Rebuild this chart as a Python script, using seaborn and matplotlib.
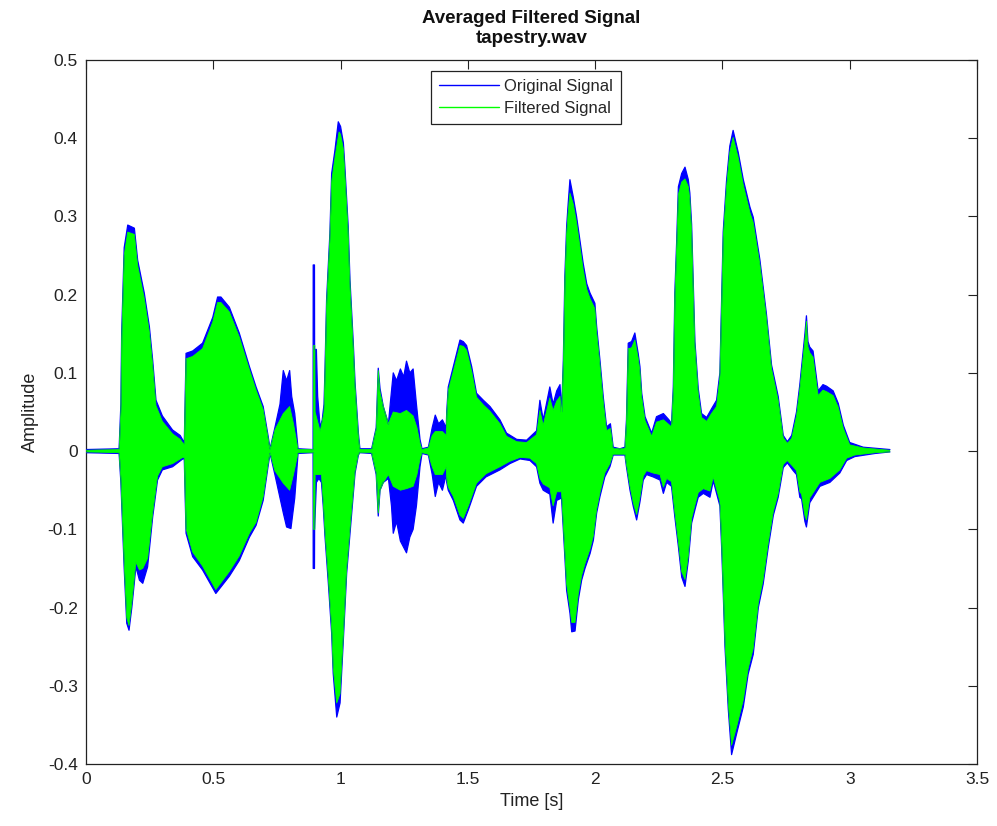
import matplotlib
matplotlib.use("Agg")
import matplotlib.pyplot as plt
from matplotlib import font_manager
from matplotlib.lines import Line2D
import seaborn as sns
import pandas as pd

# ---------------- data (envelopes) ----------------
orig_up_t = [0.000, 0.130, 0.137, 0.140, 0.150, 0.164, 0.190, 0.203, 0.229, 0.249, 0.262, 0.275, 0.300, 0.340, 0.370, 0.384,
             0.386, 0.393, 0.419, 0.458, 0.498, 0.517, 0.530, 0.563, 0.602, 0.642, 0.668, 0.696, 0.715, 0.723,
             0.742, 0.762, 0.775, 0.788, 0.800, 0.808, 0.820, 0.833,
             0.892, 0.8925, 0.8975, 0.898, 0.905, 0.910, 0.920, 0.928, 0.935, 0.939, 0.945, 0.958, 0.965, 0.978, 0.991,
             1.000, 1.011, 1.017, 1.030, 1.037, 1.050, 1.057, 1.070, 1.076,
             1.122, 1.140, 1.148, 1.155, 1.168, 1.188, 1.195, 1.207, 1.220, 1.235, 1.248, 1.259, 1.272, 1.285, 1.298, 1.312, 1.320,
             1.345, 1.360, 1.372, 1.385, 1.400, 1.415,
             1.417, 1.423, 1.443, 1.469, 1.482, 1.495, 1.515, 1.534, 1.561, 1.587, 1.626, 1.652, 1.692, 1.731, 1.770, 1.783,
             1.796, 1.822, 1.835, 1.849, 1.862, 1.868,
             1.875, 1.881, 1.888, 1.894, 1.901, 1.914, 1.927, 1.940, 1.953, 1.967, 1.980, 1.999, 2.006, 2.019, 2.032, 2.045,
             2.060, 2.071, 2.097, 2.117,
             2.123, 2.130, 2.143, 2.156, 2.169, 2.176, 2.183, 2.196, 2.222, 2.241, 2.268, 2.290, 2.300,
             2.307, 2.313, 2.320, 2.327, 2.340, 2.353, 2.366, 2.372, 2.379, 2.385, 2.392, 2.405, 2.418, 2.438, 2.457, 2.477,
             2.490, 2.497, 2.503, 2.516, 2.529, 2.542, 2.562, 2.582, 2.608, 2.621, 2.647, 2.673, 2.693, 2.706, 2.719, 2.739,
             2.755, 2.772, 2.791, 2.804, 2.824, 2.830, 2.836, 2.843, 2.856, 2.876, 2.895, 2.909, 2.935, 2.955, 2.975,
             3.000, 3.053, 3.120, 3.158]
orig_up_v = [0.002, 0.003, 0.060, 0.150, 0.260, 0.289, 0.285, 0.244, 0.202, 0.159, 0.116, 0.065, 0.045, 0.027, 0.020, 0.012,
             0.010, 0.125, 0.128, 0.138, 0.171, 0.197, 0.197, 0.184, 0.151, 0.108, 0.082, 0.057, 0.020, 0.003,
             0.030, 0.060, 0.103, 0.090, 0.103, 0.070, 0.048, 0.003,
             0.002, 0.238, 0.238, 0.130, 0.130, 0.070, 0.030, 0.040, 0.060, 0.108, 0.193, 0.278, 0.355, 0.385, 0.421,
             0.415, 0.394, 0.363, 0.287, 0.219, 0.138, 0.087, 0.023, 0.003,
             0.003, 0.030, 0.106, 0.080, 0.057, 0.035, 0.060, 0.100, 0.090, 0.105, 0.095, 0.115, 0.100, 0.105, 0.060, 0.015, 0.003,
             0.005, 0.030, 0.046, 0.035, 0.040, 0.030,
             0.050, 0.082, 0.108, 0.142, 0.140, 0.135, 0.108, 0.074, 0.065, 0.057, 0.040, 0.023, 0.015, 0.014, 0.026, 0.065,
             0.040, 0.082, 0.060, 0.077, 0.085, 0.050,
             0.116, 0.223, 0.287, 0.316, 0.347, 0.325, 0.300, 0.270, 0.240, 0.214, 0.202, 0.189, 0.159, 0.116, 0.069, 0.031,
             0.035, 0.005, 0.003, 0.005,
             0.040, 0.138, 0.140, 0.151, 0.125, 0.108, 0.074, 0.044, 0.023, 0.044, 0.048, 0.040, 0.035,
             0.082, 0.202, 0.266, 0.338, 0.355, 0.363, 0.347, 0.330, 0.290, 0.221, 0.140, 0.080, 0.048, 0.043, 0.054, 0.065,
             0.100, 0.200, 0.280, 0.345, 0.390, 0.410, 0.382, 0.347, 0.312, 0.299, 0.245, 0.175, 0.110, 0.090, 0.070, 0.020,
             0.012, 0.020, 0.050, 0.085, 0.150, 0.173, 0.140, 0.133, 0.128, 0.077, 0.085, 0.083, 0.077, 0.061, 0.033,
             0.011, 0.005, 0.003, 0.002]

orig_lo_t = [0.000, 0.130, 0.137, 0.150, 0.160, 0.169, 0.180, 0.196, 0.210, 0.223, 0.242, 0.262, 0.281, 0.300, 0.340, 0.380,
             0.386, 0.393, 0.419, 0.458, 0.510, 0.563, 0.602, 0.642, 0.668, 0.696, 0.715, 0.723,
             0.742, 0.762, 0.775, 0.788, 0.805, 0.820, 0.833,
             0.892, 0.8925, 0.8975, 0.898, 0.905, 0.915, 0.925, 0.932, 0.939, 0.952, 0.965, 0.971, 0.985, 0.998,
             1.011, 1.024, 1.037, 1.043, 1.057, 1.070, 1.076,
             1.122, 1.140, 1.148, 1.155, 1.168, 1.188, 1.200, 1.207, 1.220, 1.235, 1.259, 1.272, 1.285, 1.298, 1.312, 1.320,
             1.345, 1.360, 1.372, 1.385, 1.400, 1.415,
             1.417, 1.423, 1.443, 1.469, 1.482, 1.502, 1.534, 1.571, 1.626, 1.665, 1.705, 1.744, 1.770, 1.783, 1.796, 1.822,
             1.835, 1.849, 1.868,
             1.875, 1.881, 1.888, 1.901, 1.908, 1.921, 1.934, 1.947, 1.960, 1.980, 1.993, 2.006, 2.019, 2.038, 2.058, 2.071,
             2.117, 2.123, 2.137, 2.150, 2.163, 2.176, 2.189, 2.202, 2.228, 2.255, 2.268, 2.281, 2.300,
             2.313, 2.327, 2.340, 2.353, 2.366, 2.379, 2.392, 2.405, 2.425, 2.451, 2.464, 2.490,
             2.497, 2.503, 2.510, 2.523, 2.536, 2.556, 2.582, 2.601, 2.621, 2.641, 2.660, 2.680, 2.700, 2.719, 2.739,
             2.755, 2.778, 2.791, 2.804, 2.811, 2.824, 2.830, 2.843, 2.883, 2.922, 2.961, 2.988, 3.020, 3.100, 3.158]
orig_lo_v = [-0.002, -0.003, -0.040, -0.150, -0.220, -0.229, -0.200, -0.148, -0.165, -0.169, -0.148, -0.084, -0.037, -0.024, -0.020, -0.010,
             -0.010, -0.105, -0.135, -0.152, -0.182, -0.160, -0.140, -0.110, -0.095, -0.063, -0.020, -0.003,
             -0.030, -0.060, -0.079, -0.097, -0.099, -0.060, -0.003,
             -0.002, -0.150, -0.150, -0.100, -0.040, -0.035, -0.040, -0.071, -0.110, -0.169, -0.233, -0.284, -0.340, -0.322,
             -0.241, -0.156, -0.105, -0.081, -0.028, -0.005, -0.002,
             -0.003, -0.030, -0.083, -0.050, -0.040, -0.035, -0.070, -0.105, -0.090, -0.115, -0.130, -0.110, -0.100, -0.070, -0.020, -0.003,
             -0.005, -0.030, -0.058, -0.040, -0.050, -0.030,
             -0.040, -0.050, -0.063, -0.088, -0.092, -0.075, -0.045, -0.033, -0.024, -0.016, -0.010, -0.012, -0.020, -0.041, -0.050, -0.055,
             -0.092, -0.063, -0.060,
             -0.100, -0.135, -0.178, -0.207, -0.231, -0.230, -0.190, -0.165, -0.150, -0.131, -0.114, -0.079, -0.058, -0.033, -0.020, -0.005,
             -0.005, -0.020, -0.050, -0.071, -0.088, -0.065, -0.037, -0.030, -0.033, -0.037, -0.054, -0.040, -0.045,
             -0.084, -0.122, -0.161, -0.173, -0.140, -0.092, -0.075, -0.059, -0.054, -0.059, -0.038, -0.070,
             -0.124, -0.180, -0.250, -0.330, -0.388, -0.361, -0.327, -0.285, -0.260, -0.200, -0.170, -0.123, -0.082, -0.059, -0.021,
             -0.015, -0.025, -0.030, -0.059, -0.061, -0.090, -0.097, -0.066, -0.045, -0.040, -0.028, -0.012, -0.007, -0.003, -0.001]

filt_up_t = [0.000, 0.130, 0.137, 0.140, 0.150, 0.164, 0.190, 0.203, 0.229, 0.249, 0.262, 0.275, 0.300, 0.340, 0.370,
             0.386, 0.393, 0.419, 0.458, 0.498, 0.517, 0.530, 0.563, 0.602, 0.642, 0.668, 0.696, 0.715, 0.723,
             0.742, 0.775, 0.800, 0.815, 0.833,
             0.893, 0.894, 0.899, 0.900, 0.920, 0.935, 0.939, 0.945, 0.958, 0.965, 0.978, 0.994,
             1.000, 1.011, 1.017, 1.030, 1.037, 1.050, 1.057, 1.070, 1.076,
             1.122, 1.140, 1.148, 1.155, 1.168, 1.188, 1.207, 1.235, 1.259, 1.285, 1.300, 1.312, 1.320,
             1.345, 1.360, 1.372, 1.400, 1.415,
             1.417, 1.423, 1.443, 1.469, 1.482, 1.495, 1.515, 1.534, 1.561, 1.587, 1.626, 1.652, 1.692, 1.731, 1.770, 1.783,
             1.796, 1.822, 1.835, 1.849, 1.862, 1.868,
             1.875, 1.881, 1.888, 1.894, 1.901, 1.914, 1.927, 1.940, 1.953, 1.967, 1.980, 1.999, 2.006, 2.019, 2.032, 2.045,
             2.060, 2.071, 2.117,
             2.123, 2.130, 2.143, 2.156, 2.169, 2.176, 2.183, 2.196, 2.222, 2.241, 2.268, 2.300,
             2.307, 2.313, 2.320, 2.327, 2.340, 2.353, 2.366, 2.372, 2.379, 2.385, 2.392, 2.405, 2.418, 2.438, 2.457, 2.477,
             2.490, 2.497, 2.503, 2.516, 2.529, 2.542, 2.562, 2.582, 2.608, 2.621, 2.647, 2.673, 2.693, 2.706, 2.719, 2.739,
             2.755, 2.772, 2.791, 2.804, 2.824, 2.830, 2.836, 2.843, 2.856, 2.876, 2.895, 2.909, 2.935, 2.955, 2.975,
             3.000, 3.053, 3.120, 3.158]
filt_up_v = [0.001, 0.002, 0.050, 0.140, 0.250, 0.280, 0.277, 0.237, 0.195, 0.152, 0.110, 0.058, 0.038, 0.022, 0.015,
             0.008, 0.118, 0.121, 0.131, 0.165, 0.190, 0.190, 0.178, 0.146, 0.104, 0.078, 0.053, 0.017, 0.002,
             0.027, 0.048, 0.057, 0.035, 0.002,
             0.002, 0.135, 0.135, 0.050, 0.025, 0.050, 0.102, 0.187, 0.272, 0.345, 0.375, 0.408,
             0.405, 0.386, 0.355, 0.280, 0.212, 0.132, 0.082, 0.019, 0.002,
             0.002, 0.028, 0.103, 0.075, 0.057, 0.035, 0.050, 0.048, 0.052, 0.045, 0.030, 0.010, 0.002,
             0.004, 0.020, 0.025, 0.025, 0.020,
             0.046, 0.077, 0.102, 0.135, 0.134, 0.129, 0.102, 0.069, 0.059, 0.051, 0.035, 0.019, 0.012, 0.011, 0.021, 0.052,
             0.033, 0.068, 0.052, 0.064, 0.070, 0.046,
             0.110, 0.215, 0.278, 0.305, 0.330, 0.316, 0.292, 0.262, 0.232, 0.207, 0.195, 0.182, 0.152, 0.110, 0.063, 0.026,
             0.029, 0.003, 0.003,
             0.036, 0.131, 0.132, 0.142, 0.119, 0.102, 0.069, 0.039, 0.019, 0.037, 0.040, 0.031,
             0.076, 0.195, 0.258, 0.328, 0.344, 0.348, 0.338, 0.322, 0.282, 0.214, 0.134, 0.074, 0.043, 0.038, 0.048, 0.057,
             0.094, 0.192, 0.272, 0.337, 0.382, 0.401, 0.375, 0.340, 0.305, 0.292, 0.239, 0.170, 0.105, 0.085, 0.065, 0.017,
             0.010, 0.016, 0.045, 0.079, 0.142, 0.166, 0.133, 0.126, 0.120, 0.071, 0.078, 0.076, 0.071, 0.056, 0.029,
             0.008, 0.004, 0.002, 0.001]

filt_lo_t = [0.000, 0.130, 0.137, 0.150, 0.160, 0.169, 0.180, 0.196, 0.210, 0.223, 0.242, 0.262, 0.281, 0.300, 0.340, 0.380,
             0.386, 0.393, 0.419, 0.458, 0.510, 0.563, 0.602, 0.642, 0.668, 0.696, 0.715, 0.723,
             0.742, 0.775, 0.800, 0.815, 0.833,
             0.893, 0.894, 0.899, 0.900, 0.925, 0.932, 0.939, 0.952, 0.965, 0.971, 0.985, 0.998,
             1.011, 1.024, 1.037, 1.043, 1.057, 1.070, 1.076,
             1.122, 1.140, 1.148, 1.155, 1.168, 1.188, 1.207, 1.235, 1.259, 1.285, 1.300, 1.312, 1.320,
             1.345, 1.360, 1.372, 1.400, 1.415,
             1.417, 1.423, 1.443, 1.469, 1.482, 1.502, 1.534, 1.571, 1.626, 1.665, 1.705, 1.744, 1.770, 1.783, 1.796, 1.822,
             1.835, 1.849, 1.868,
             1.875, 1.881, 1.888, 1.901, 1.908, 1.921, 1.934, 1.947, 1.960, 1.980, 1.993, 2.006, 2.019, 2.038, 2.058, 2.071,
             2.117, 2.123, 2.137, 2.150, 2.163, 2.176, 2.189, 2.202, 2.228, 2.255, 2.268, 2.281, 2.300,
             2.313, 2.327, 2.340, 2.353, 2.366, 2.379, 2.392, 2.405, 2.425, 2.451, 2.464, 2.490,
             2.497, 2.503, 2.510, 2.523, 2.536, 2.556, 2.582, 2.601, 2.621, 2.641, 2.660, 2.680, 2.700, 2.719, 2.739,
             2.755, 2.778, 2.791, 2.804, 2.811, 2.824, 2.830, 2.843, 2.883, 2.922, 2.961, 2.988, 3.020, 3.100, 3.158]
filt_lo_v = [-0.001, -0.002, -0.035, -0.142, -0.213, -0.223, -0.194, -0.142, -0.152, -0.150, -0.137, -0.079, -0.032, -0.020, -0.016, -0.008,
             -0.008, -0.099, -0.129, -0.147, -0.177, -0.154, -0.134, -0.105, -0.091, -0.058, -0.017, -0.002,
             -0.025, -0.041, -0.050, -0.030, -0.002,
             -0.002, -0.100, -0.100, -0.030, -0.030, -0.065, -0.104, -0.162, -0.226, -0.276, -0.322, -0.310,
             -0.235, -0.150, -0.100, -0.076, -0.025, -0.004, -0.002,
             -0.002, -0.028, -0.079, -0.050, -0.040, -0.030, -0.045, -0.050, -0.048, -0.045, -0.030, -0.010, -0.002,
             -0.004, -0.020, -0.030, -0.030, -0.020,
             -0.036, -0.046, -0.058, -0.082, -0.086, -0.070, -0.041, -0.029, -0.020, -0.013, -0.008, -0.009, -0.016, -0.035, -0.042, -0.047,
             -0.070, -0.052, -0.052,
             -0.093, -0.128, -0.170, -0.200, -0.219, -0.219, -0.182, -0.159, -0.144, -0.125, -0.108, -0.074, -0.053, -0.028, -0.016, -0.004,
             -0.004, -0.017, -0.045, -0.066, -0.081, -0.059, -0.032, -0.025, -0.028, -0.030, -0.046, -0.035, -0.039,
             -0.078, -0.116, -0.154, -0.164, -0.134, -0.086, -0.069, -0.053, -0.048, -0.051, -0.033, -0.064,
             -0.117, -0.174, -0.242, -0.322, -0.376, -0.352, -0.318, -0.278, -0.252, -0.194, -0.164, -0.117, -0.077, -0.054, -0.017,
             -0.012, -0.020, -0.025, -0.052, -0.055, -0.082, -0.088, -0.060, -0.040, -0.035, -0.024, -0.009, -0.005, -0.002, -0.001]

series_labels = ["Original Signal", "Filtered Signal"]
series_colors = ["#0000ff", "#00ff00"]
x_ticks = [0, 0.5, 1, 1.5, 2, 2.5, 3, 3.5]
x_tick_labels = ["0", "0.5", "1", "1.5", "2", "2.5", "3", "3.5"]
y_ticks = [-0.4, -0.3, -0.2, -0.1, 0, 0.1, 0.2, 0.3, 0.4, 0.5]
y_tick_labels = ["-0.4", "-0.3", "-0.2", "-0.1", "0", "0.1", "0.2", "0.3", "0.4", "0.5"]
title_text = "Averaged Filtered Signal\ntapestry.wav"
x_label = "Time [s]"
y_label = "Amplitude"

# ---------------- style ----------------
sns.set_theme(style="white")
avail = {f.name for f in font_manager.fontManager.ttflist}
fam = "Liberation Sans Narrow" if "Liberation Sans Narrow" in avail else "Liberation Sans"
plt.rcParams["font.family"] = [fam, "DejaVu Sans"]
plt.rcParams["axes.unicode_minus"] = False

fig = plt.figure(figsize=(9.97, 8.26), dpi=100)
ax = fig.add_axes([86 / 997, 1 - 764 / 826, 891 / 997, 704 / 826])

envelopes = [
    (orig_up_t, orig_up_v, orig_lo_t, orig_lo_v),
    (filt_up_t, filt_up_v, filt_lo_t, filt_lo_v),
]
for (ut, uv, lt, lv), col in zip(envelopes, series_colors):
    poly_x = list(ut) + list(lt)[::-1]
    poly_y = list(uv) + list(lv)[::-1]
    ax.fill(poly_x, poly_y, color=col, lw=0, zorder=2)
    up = pd.DataFrame({"t": ut, "a": uv})
    lo = pd.DataFrame({"t": lt, "a": lv})
    lw = 0.9 if col == "#0000ff" else 0.6
    sns.lineplot(data=up, x="t", y="a", ax=ax, color=col, lw=lw, estimator=None, sort=False, zorder=3)
    sns.lineplot(data=lo, x="t", y="a", ax=ax, color=col, lw=lw, estimator=None, sort=False, zorder=3)

ax.set_xlim(0, 3.5)
ax.set_ylim(-0.4, 0.5)
ax.set_xticks(x_ticks)
ax.set_xticklabels(x_tick_labels)
ax.set_yticks(y_ticks)
ax.set_yticklabels(y_tick_labels)
ax.tick_params(axis="both", which="both", direction="in", length=6.5, width=0.8,
               top=True, right=True, labelsize=12.5, colors="#222222", pad=6)
for s in ax.spines.values():
    s.set_visible(True)
    s.set_color("#222222")
    s.set_linewidth(0.9)
ax.set_xlabel(x_label, fontsize=13, color="#222222", labelpad=4)
ax.set_ylabel(y_label, fontsize=13, color="#222222", labelpad=6)
ax.set_title(title_text, fontsize=13.5, fontweight="bold", color="#111111", pad=12,
             family=["Liberation Sans", "DejaVu Sans"], linespacing=1.25)
ax.grid(False)

handles = [Line2D([0], [0], color=c, lw=1.0) for c in series_colors]
leg = ax.legend(handles, series_labels, loc="upper center", bbox_to_anchor=(0.494, 0.985),
                fontsize=12, frameon=True, fancybox=False, framealpha=1, edgecolor="#222222",
                handlelength=3.6, handletextpad=0.3, borderpad=0.5, labelspacing=0.4, borderaxespad=0)
leg.get_frame().set_linewidth(0.9)

fig.savefig("out.png", dpi=100, facecolor="white")
